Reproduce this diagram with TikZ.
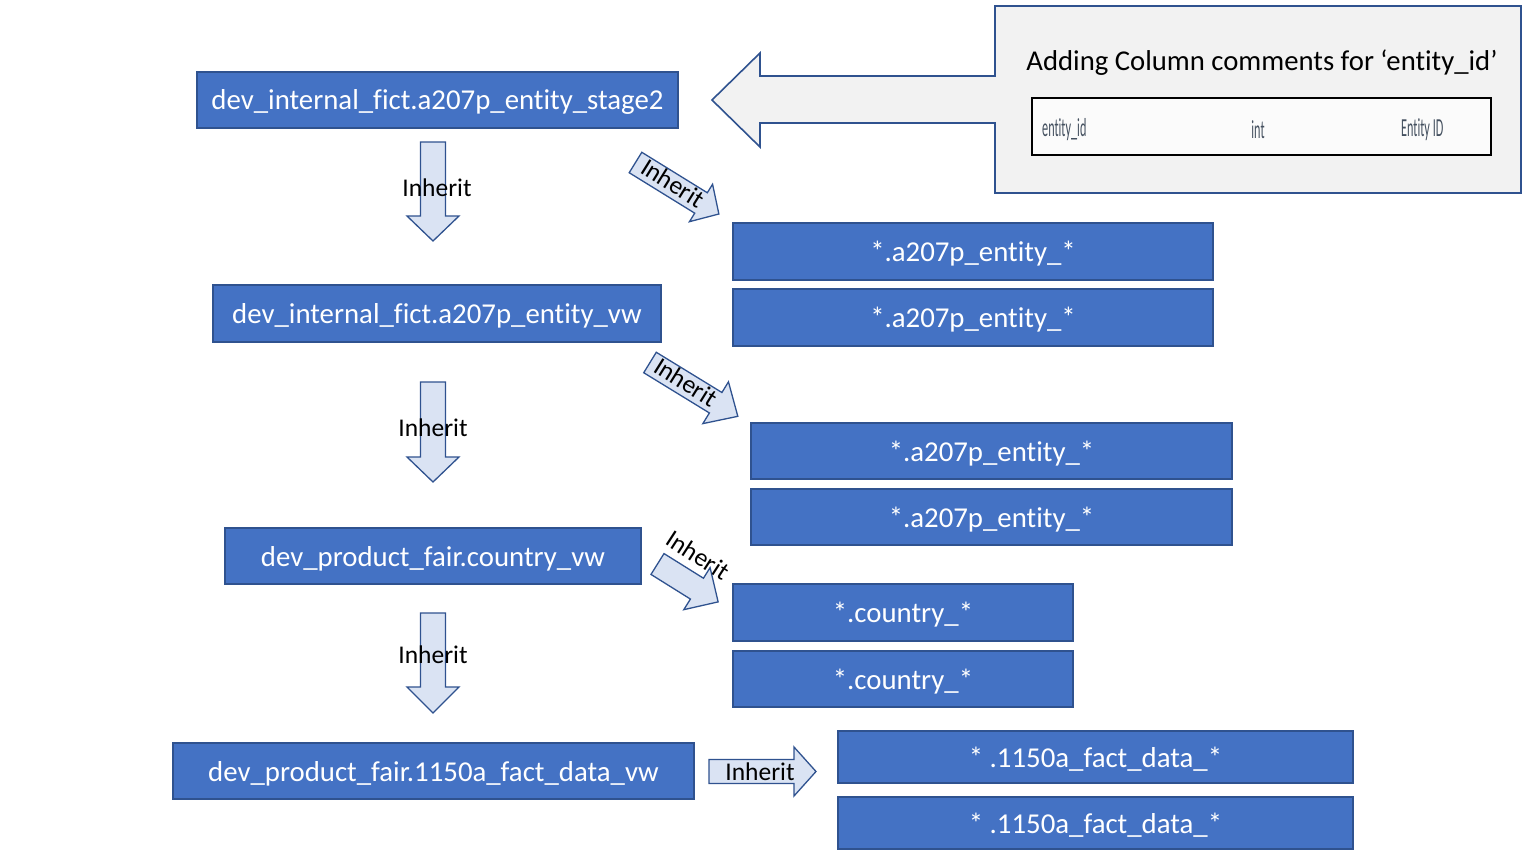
\documentclass[tikz,border=0pt]{standalone}
\usepackage{fontspec}
\setmainfont[Ligatures=NoCommon]{Carlito}
\definecolor{boxfill}{HTML}{4472C4}
\definecolor{boxline}{HTML}{2F528F}
\definecolor{arrfill}{HTML}{DAE3F3}
\definecolor{callfill}{HTML}{F2F2F2}
\definecolor{coltext}{HTML}{44505F}
\newcommand\blkarrow[7]{%
  \begin{scope}[shift={(#1,#2)},rotate=#3]
    \draw[arrowsty] (0,{-#5/2}) -- ({#4-#7},{-#5/2}) -- ({#4-#7},{-#6/2}) -- (#4,0)
      -- ({#4-#7},{#6/2}) -- ({#4-#7},{#5/2}) -- (0,{#5/2}) -- cycle;
  \end{scope}}
\begin{document}
\begin{tikzpicture}[x=1pt,y=-1pt,
  bbox/.style={draw=boxline,fill=boxfill,line width=1.6pt,text=white,
    font=\fontsize{28.8}{32}\selectfont,inner sep=0pt,text height=30pt,text depth=10pt},
  arrowsty/.style={draw=boxline,fill=arrfill,line width=1.3pt,line join=miter},
  inh/.style={font=\fontsize{25.5}{28}\selectfont,text=black,inner sep=0pt},
  coltxt/.style={text=coltext,font=\fontsize{26}{28}\selectfont,inner sep=0pt}]
\useasboundingbox (0,0) rectangle (1527,859);

% callout
\draw[draw=boxline,fill=callfill,line width=1.6pt,line join=miter]
  (995,6) -- (1521,6) -- (1521,193) -- (995,193) -- (995,123) -- (760,123)
  -- (760,147) -- (712,100) -- (760,53) -- (760,76) -- (995,76) -- cycle;
\node[text=black,font=\fontsize{28.7}{32}\selectfont,inner sep=0pt] (calltxt) at (1262,63)
  {Adding Column comments for ‘entity\_id’};
\node[draw=black,fill=white!97!gray,line width=1.8pt,minimum width=459pt,minimum height=57pt,inner sep=0pt]
  (coltab) at (1261.5,126.5) {};
\node[coltxt,anchor=west] (c1) at (1042,130) {\scalebox{0.47}[1]{entity\_id}};
\node[coltxt] (c2) at (1258,130) {\scalebox{0.47}[1]{int}};
\node[coltxt,anchor=west] (c3) at (1401,130) {\scalebox{0.47}[1]{Entity ID}};

% left column
\node[bbox,minimum width=481pt,minimum height=56pt] (s2) at (437.5,100) {dev\_internal\_fict.a207p\_entity\_stage2};
\node[bbox,minimum width=448pt,minimum height=57pt] (vw) at (437,313.5) {dev\_internal\_fict.a207p\_entity\_vw};
\node[bbox,minimum width=416pt,minimum height=56pt] (cvw) at (433,556) {dev\_product\_fair.country\_vw};
\node[bbox,minimum width=521pt,minimum height=56pt] (fvw) at (433.5,771) {dev\_product\_fair.1150a\_fact\_data\_vw};

% right column
\node[bbox,minimum width=480pt,minimum height=57pt] (ra) at (973,251.5) {*.a207p\_entity\_*};
\node[bbox,minimum width=480pt,minimum height=57pt] (rb) at (973,317.5) {*.a207p\_entity\_*};
\node[bbox,minimum width=481pt,minimum height=56pt] (rc) at (991.5,451) {*.a207p\_entity\_*};
\node[bbox,minimum width=481pt,minimum height=56pt] (rd) at (991.5,517) {*.a207p\_entity\_*};
\node[bbox,minimum width=340pt,minimum height=57pt] (re) at (903,612.5) {*.country\_*};
\node[bbox,minimum width=340pt,minimum height=56pt] (rf) at (903,679) {*.country\_*};
\node[bbox,minimum width=515pt,minimum height=52pt] (rg) at (1095.5,757) {* .1150a\_fact\_data\_*};
\node[bbox,minimum width=515pt,minimum height=52pt] (rh) at (1095.5,823) {* .1150a\_fact\_data\_*};

% down arrows
\blkarrow{433}{142}{-90}{99}{25}{52}{25}
\node[inh] (t1) at (437,188) {Inherit};
\blkarrow{433}{382}{-90}{100}{25}{52}{25}
\node[inh] (t2) at (433,428) {Inherit};
\blkarrow{433}{613}{-90}{100}{25}{52}{26}
\node[inh] (t3) at (433,655) {Inherit};

% diagonal arrows
\blkarrow{635.5}{162.5}{-31.7}{98}{24}{44}{21}
\node[inh,rotate=-32] (t4) at (673,183) {Inherit};
\blkarrow{650}{362.5}{-31.5}{103}{24}{49}{26}
\node[inh,rotate=-32] (t5) at (686,382) {Inherit};
\blkarrow{657.5}{564}{-32}{71.5}{24.6}{49.6}{25}
\node[inh,rotate=-33] (t6) at (698,555) {Inherit};

% horizontal arrow
\blkarrow{709}{771.5}{0}{107}{24}{49}{22}
\node[inh] (t7) at (760,772) {Inherit};
\end{tikzpicture}
\end{document}
